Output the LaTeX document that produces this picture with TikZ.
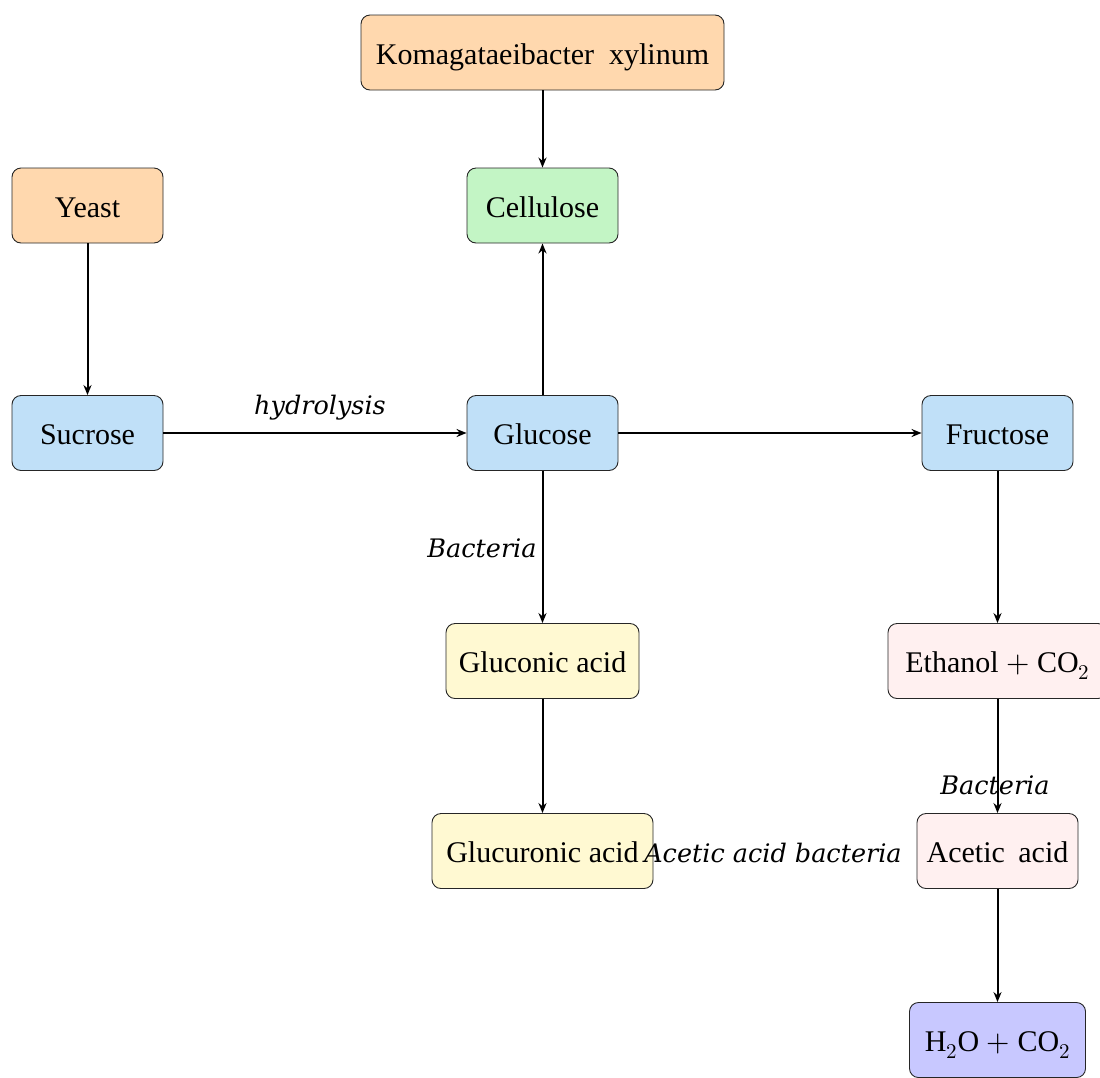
\documentclass[tikz,border=0pt]{standalone}
\usepackage{fontspec}
\usepackage{unicode-math}
\setmainfont{Liberation Serif}
\setmathfont{Latin Modern Math}
\newfontfamily\labfont{DejaVu Serif}
\usetikzlibrary{arrows.meta}
\definecolor{corange}{HTML}{FFD8AE}
\definecolor{cgreen}{HTML}{C3F5C5}
\definecolor{cblue}{HTML}{C0E0F8}
\definecolor{cyellow}{HTML}{FFF9D2}
\definecolor{cpink}{HTML}{FFF0F0}
\definecolor{cpurple}{HTML}{C8C8FF}
\begin{document}
\begin{tikzpicture}[x=1pt,y=-1pt,
  box/.style={draw=black!85, line width=0.9pt, rounded corners=9pt, inner sep=0pt,
    minimum height=75pt, text height=23pt, text depth=0pt, font=\fontsize{30}{34}\selectfont},
  lab/.style={font=\labfont\itshape\fontsize{25.5}{30}\selectfont, inner sep=0pt},
  arr/.style={-{Stealth[length=10pt,width=8pt]}, line width=2pt}]
\useasboundingbox (0,0) rectangle (1100,1077);
\node[box, fill=corange, minimum width=363pt] (k) at (542.5,52.5) {Komagataeibacter\hspace{0.5em}xylinum};
\node[box, fill=corange, minimum width=151pt] (yeast) at (87.5,205.5) {Yeast};
\node[box, fill=cgreen, minimum width=151pt] (cell) at (542.5,205.5) {Cellulose};
\node[box, fill=cblue, minimum width=151pt] (suc) at (87.5,433) {Sucrose};
\node[box, fill=cblue, minimum width=151pt] (glu) at (542.5,433) {Glucose};
\node[box, fill=cblue, minimum width=151pt] (fru) at (997.5,433) {Fructose};
\node[box, fill=cyellow, minimum width=193pt] (gla) at (542.5,661) {Gluconic acid};
\node[box, fill=cpink, minimum width=219pt] (eth) at (997.5,661) {Ethanol $+$ CO$_2$};
\node[box, fill=cyellow, minimum width=221pt] (glr) at (542.5,851) {Glucuronic acid};
\node[box, fill=cpink, minimum width=161pt] (ace) at (997.5,851) {Acetic\hspace{0.45em}acid};
\node[box, fill=cpurple, minimum width=176pt] (hco) at (997.5,1040) {H$_2$O $+$ CO$_2$};
\draw[arr] (k) -- (cell);
\draw[arr] (yeast) -- (suc);
\draw[arr] (suc) -- (glu);
\draw[arr] (glu) -- (cell);
\draw[arr] (glu) -- (fru);
\draw[arr] (glu) -- (gla);
\draw[arr] (gla) -- (glr);
\draw[arr] (fru) -- (eth);
\draw[arr] (eth) -- (ace);
\draw[arr] (ace) -- (hco);
\node[lab] (l1) at (320,408) {hydrolysis};
\node[lab] (l2) at (482,548) {Bacteria};
\node[lab] (l3) at (995,785) {Bacteria};
\node[lab] (l4) at (773,853) {Acetic acid bacteria};
\end{tikzpicture}
\end{document}
